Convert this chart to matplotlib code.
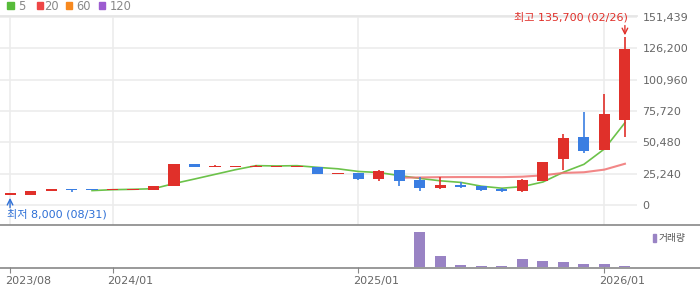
import matplotlib
matplotlib.use('Agg')
import matplotlib.pyplot as plt
import numpy as np
import pandas as pd
from matplotlib.patches import Rectangle
from matplotlib.lines import Line2D
from matplotlib.transforms import ScaledTranslation

plt.rcParams['font.family'] = ['DejaVu Sans', 'Noto Sans CJK KR']

# 월봉 2023/08 ~ 2026/02
months = pd.period_range('2023-08', '2026-02', freq='M')
opens = [8000, 8300, 11500, 12900, 12900, 12200, 12200, 12100, 15500, 33000,
         30900, 30900, 31000, 31000, 31000, 30600, 25000, 25800, 20950, 28200,
         20150, 13700, 16100, 15300, 12900, 11500, 19600, 37300, 54800, 44600, 68750]
highs = [9300, 11300, 12900, 12900, 12900, 12900, 12900, 15300, 33000, 33000,
         32500, 31700, 32400, 31700, 31700, 30600, 25800, 25800, 28200, 28200,
         22600, 22600, 18500, 15300, 13400, 21000, 34660, 57200, 75200, 89500, 135700]
lows = [8000, 8300, 11500, 10700, 12300, 12200, 12200, 12100, 15500, 30600,
        30900, 30900, 31000, 31000, 31000, 25000, 25000, 20150, 19350, 15300,
        11300, 12900, 13700, 11300, 10500, 10800, 19600, 28200, 42150, 44600, 55050]
closes = [9300, 11300, 12900, 12300, 12300, 12900, 12900, 15300, 33000, 30600,
          31700, 31700, 31700, 31700, 31700, 25000, 25800, 20950, 27400, 19350,
          13700, 16100, 14500, 12100, 11300, 20150, 34660, 54000, 43800, 73350, 125700]
volumes = [0] * 20 + [3630000, 1130000, 230000, 130000, 130000, 830000,
                      630000, 530000, 330000, 330000, 130000]

yticks = [0, 25240, 50480, 75720, 100960, 126200, 151439]
xtick_pos = [0, 5, 17, 29]
xtick_labels = ['2023/08', '2024/01', '2025/01', '2026/01']

ma_names = ['5', '20', '60', '120']
ma_colors = ['#57bb3a', '#ee4646', '#f7891f', '#9c5cd0']

RED = '#e0302a'
BLUE = '#3a7ee2'
W, H = 700, 289

fig = plt.figure(figsize=(7, 2.89), dpi=100)
ax = fig.add_axes([0, 1 - 225 / H, 637 / W, (225 - 15.7) / H])
axv = fig.add_axes([0, 1 - 267.4 / H, 637 / W, (267.4 - 225) / H], sharex=ax)

x = np.arange(len(months))
o, h, l, c = map(np.array, (opens, highs, lows, closes))
cols = [RED if cc >= oo else BLUE for oo, cc in zip(o, c)]

ma5 = pd.Series(c).rolling(5).mean()
ma20 = pd.Series(c).rolling(20).mean()
ax.plot(x, ma5, color='#6cc24a', lw=1.2, zorder=2)
ax.plot(x, ma20, color='#f07272', lw=1.5, alpha=0.85, zorder=2)

ax.vlines(x, l, h, color=cols, lw=1.2, zorder=3)
ax.bar(x, np.maximum(np.abs(c - o), 750), bottom=np.minimum(o, c),
       width=0.54, color=cols, zorder=4)

ax.set_xlim(-0.49, 30.59)
ax.set_ylim(-16120, 152600)
ax.set_xticks(xtick_pos)
ax.set_yticks(yticks)
ax.set_yticklabels([f'{v:,}' for v in yticks])
ax.yaxis.tick_right()
ax.tick_params(axis='y', length=0, pad=4, labelsize=8, labelcolor='#666666')
ax.tick_params(axis='x', length=0, labelbottom=False)
ax.grid(color='#ececec', lw=1.2, zorder=0)
for s in ['left', 'right', 'bottom']:
    ax.spines[s].set_visible(False)
ax.spines['top'].set_color('#e6e6e6')
ax.spines['top'].set_linewidth(1.3)

# 최고 / 최저
imax = int(np.argmax(h))
imin = int(np.argmin(l))
ax.annotate('', xy=(imax, h[imax]), xytext=(0, 8), textcoords='offset points',
            arrowprops=dict(arrowstyle='->', color=RED, lw=1, shrinkA=0, shrinkB=1))
ax.annotate(f'최고 {h[imax]:,} (02/26)', xy=(imax, h[imax]), xytext=(2, 14),
            textcoords='offset points', ha='right', va='center', fontsize=8, color=RED,
            annotation_clip=False)
ax.annotate('', xy=(imin, l[imin]), xytext=(0, -9), textcoords='offset points',
            arrowprops=dict(arrowstyle='->', color='#2d6fd6', lw=1, shrinkA=0, shrinkB=2))
ax.annotate(f'최저 {l[imin]:,} (08/31)', xy=(imin, l[imin]), xytext=(-2.5, -14),
            textcoords='offset points', ha='left', va='center', fontsize=8, color='#2d6fd6')

# 거래량
axv.bar(x, volumes, width=0.54, color='#9983c4')
axv.set_ylim(0, max(volumes) * 42.4 / 35.4)
axv.set_yticks([])
axv.set_xticks(xtick_pos)
axv.set_xticklabels(xtick_labels, ha='left')
axv.tick_params(axis='x', length=4, color='#888888', labelsize=8, labelcolor='#666666', pad=2.5)
for lab in axv.get_xticklabels():
    lab.set_transform(lab.get_transform() + ScaledTranslation(-5 / 100, 0, fig.dpi_scale_trans))
for s in axv.spines.values():
    s.set_visible(False)

for yy in [225, 268.3]:
    fig.add_artist(Line2D([0, 1], [1 - yy / H, 1 - yy / H], transform=fig.transFigure,
                          color='#888888', lw=1.2))

# 범례
sq_x = [7.3, 37.3, 66, 99]
tx_x = [17.7, 44.5, 76.7, 110]
for name, col, sx, tx in zip(ma_names, ma_colors, sq_x, tx_x):
    fig.add_artist(Rectangle((sx / W, 1 - 9.2 / H), 6.2 / W, 6.8 / H,
                             transform=fig.transFigure, color=col))
    fig.text(tx / W, 1 - 6 / H, name, fontsize=8.3, color='#888888', va='center')

fig.add_artist(Rectangle((652.7 / W, 1 - 242 / H), 3 / W, 8 / H,
                         transform=fig.transFigure, color='#9983c4'))
fig.text(658.5 / W, 1 - 238 / H, '거래량', fontsize=7, color='#555555', va='center')

fig.savefig('out.png', dpi=100)
